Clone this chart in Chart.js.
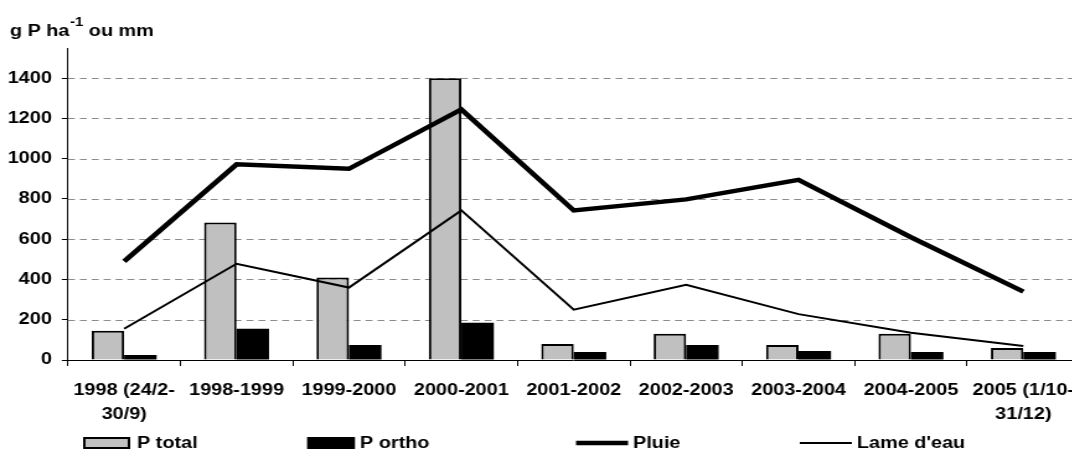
<!DOCTYPE html>
<html>
<head>
<meta charset="utf-8">
<title>Phosphore, pluie et lame d'eau</title>
<script src="https://cdn.jsdelivr.net/npm/chart.js@4"></script>
<style>
  html, body { margin: 0; padding: 0; background: #fff; overflow: hidden; }
  /* the chart is laid out narrow and widened horizontally */
  #wrap { width: 880px; height: 461px; transform: scaleX(1.24); transform-origin: 0 0; }
</style>
</head>
<body>
<div id="wrap"><canvas id="chart"></canvas></div>
<script>
// Périodes (étiquettes sur deux lignes quand elles sont longues)
const categories = [
  ['1998 (24/2-', '30/9)'],
  '1998-1999', '1999-2000', '2000-2001', '2001-2002',
  '2002-2003', '2003-2004', '2004-2005',
  ['2005 (1/10-', '31/12)']
];
// Flux de phosphore (g P ha-1)
const pTotal = [145, 683, 410, 1400, 80, 130, 75, 130, 60];
const pOrtho = [25, 155, 75, 185, 40, 75, 45, 40, 40];
// Pluie et lame d'eau écoulée (mm)
const pluie = [490, 972, 950, 1245, 743, 798, 895, 610, 340];
const lameEau = [155, 478, 360, 743, 250, 374, 228, 135, 70];
// Graduations de l'axe vertical
const yTicks = [0, 200, 400, 600, 800, 1000, 1200, 1400];

const FONT = "'Liberation Sans', Arial, sans-serif";
Chart.defaults.font.family = FONT;
Chart.defaults.font.size = 16;
Chart.defaults.font.weight = 'bold';
Chart.defaults.color = '#000';

const GRID_DASH = [5.6, 4];

// Unit label above the vertical axis, with a superscript exponent
const unitLabel = {
  id: 'unitLabel',
  afterDraw(chart) {
    const ctx = chart.ctx;
    ctx.save();
    ctx.fillStyle = '#000';
    ctx.textBaseline = 'alphabetic';
    ctx.font = 'bold 16px ' + FONT;
    const x0 = 8, base = 36;
    ctx.fillText('g P ha', x0, base);
    let x = x0 + ctx.measureText('g P ha').width + 0.5;
    ctx.font = 'bold 12px ' + FONT;
    ctx.fillText('-1', x, base - 10);
    x += ctx.measureText('-1').width;
    ctx.font = 'bold 16px ' + FONT;
    ctx.fillText(' ou mm', x, base);
    ctx.restore();
  }
};

// Dashed horizontal gridlines at each y tick, placed by the y scale
const dashedGrid = {
  id: 'dashedGrid',
  beforeDatasetsDraw(chart) {
    const {ctx, chartArea, scales: {y}} = chart;
    ctx.save();
    ctx.strokeStyle = '#8c8c8c';
    ctx.lineWidth = 1;
    ctx.setLineDash(GRID_DASH);
    y.ticks.forEach(t => {
      if (t.value === 0) return;
      const py = Math.round(y.getPixelForValue(t.value)) + 0.5;
      ctx.beginPath();
      ctx.moveTo(chartArea.left, py);
      ctx.lineTo(chartArea.right, py);
      ctx.stroke();
    });
    ctx.restore();
  }
};

// Legend row along the bottom edge
const bottomLegend = {
  id: 'bottomLegend',
  afterDraw(chart, args, opts) {
    const ctx = chart.ctx;
    const y = opts.y;
    chart.data.datasets.forEach((ds, i) => {
      const s = opts.slots[i];
      ctx.save();
      if (ds.type === 'bar') {
        ctx.fillStyle = ds.backgroundColor;
        ctx.fillRect(s.x, y - 6, s.w, 12);
        if (ds.borderWidth) {
          ctx.lineWidth = ds.borderWidth;
          ctx.strokeStyle = ds.borderColor;
          ctx.strokeRect(s.x + 1, y - 5, s.w - 2, 10);
        }
      } else {
        ctx.strokeStyle = ds.borderColor;
        ctx.lineWidth = ds.borderWidth;
        ctx.beginPath();
        ctx.moveTo(s.x, y);
        ctx.lineTo(s.x + s.w, y);
        ctx.stroke();
      }
      ctx.fillStyle = '#000';
      ctx.font = 'bold 16px ' + FONT;
      ctx.textBaseline = 'middle';
      ctx.fillText(ds.label, s.tx, y + 1);
      ctx.restore();
    });
  }
};

new Chart(document.getElementById('chart'), {
  data: {
    labels: categories,
    datasets: [
      { type: 'bar', label: 'P total', data: pTotal, order: 2,
        backgroundColor: '#c0c0c0', borderColor: '#000', borderWidth: 2,
        barPercentage: 1, categoryPercentage: 0.578 },
      { type: 'bar', label: 'P ortho', data: pOrtho, order: 2,
        backgroundColor: '#000', borderColor: '#000', borderWidth: 0,
        barPercentage: 1, categoryPercentage: 0.578 },
      { type: 'line', label: 'Pluie', data: pluie, order: 1,
        borderColor: '#000', borderWidth: 4.5, pointRadius: 0, tension: 0, fill: false },
      { type: 'line', label: "Lame d'eau", data: lameEau, order: 1,
        borderColor: '#000', borderWidth: 2, pointRadius: 0, tension: 0, fill: false }
    ]
  },
  options: {
    responsive: true,
    maintainAspectRatio: false,
    animation: false,
    events: [],
    layout: { padding: { left: 6.2, right: 9.4, top: 48, bottom: 21 } },
    plugins: {
      legend: { display: false },
      tooltip: { enabled: false },
      bottomLegend: {
        y: 443,
        slots: [
          { x: 67, w: 38, tx: 110.5 },
          { x: 247.6, w: 38.7, tx: 290.3 },
          { x: 464.5, w: 42, tx: 510.5 },
          { x: 645, w: 42, tx: 691 }
        ]
      }
    },
    scales: {
      x: {
        offset: true,
        grid: { offset: true, drawOnChartArea: false, drawTicks: true, tickLength: 6,
                tickColor: '#000', tickWidth: 1 },
        border: { display: true, color: '#000', width: 1 },
        ticks: { padding: 13, maxRotation: 0, autoSkip: false,
                 font: { size: 16, weight: 'bold', lineHeight: 1.5 } }
      },
      y: {
        min: 0,
        max: 1550,
        afterBuildTicks(scale) {
          scale.ticks = yTicks.map(v => ({ value: v }));
        },
        afterFit(scale) {
          scale.width = 48.6;
        },
        grid: { drawOnChartArea: false, drawTicks: true, tickLength: 5,
                tickColor: '#000', tickWidth: 1 },
        border: { display: true, color: '#000', width: 1 },
        ticks: { padding: 8, font: { size: 16, weight: 'bold' },
                 callback: v => String(v) }
      }
    }
  },
  plugins: [unitLabel, dashedGrid, bottomLegend]
});
</script>
</body>
</html>
